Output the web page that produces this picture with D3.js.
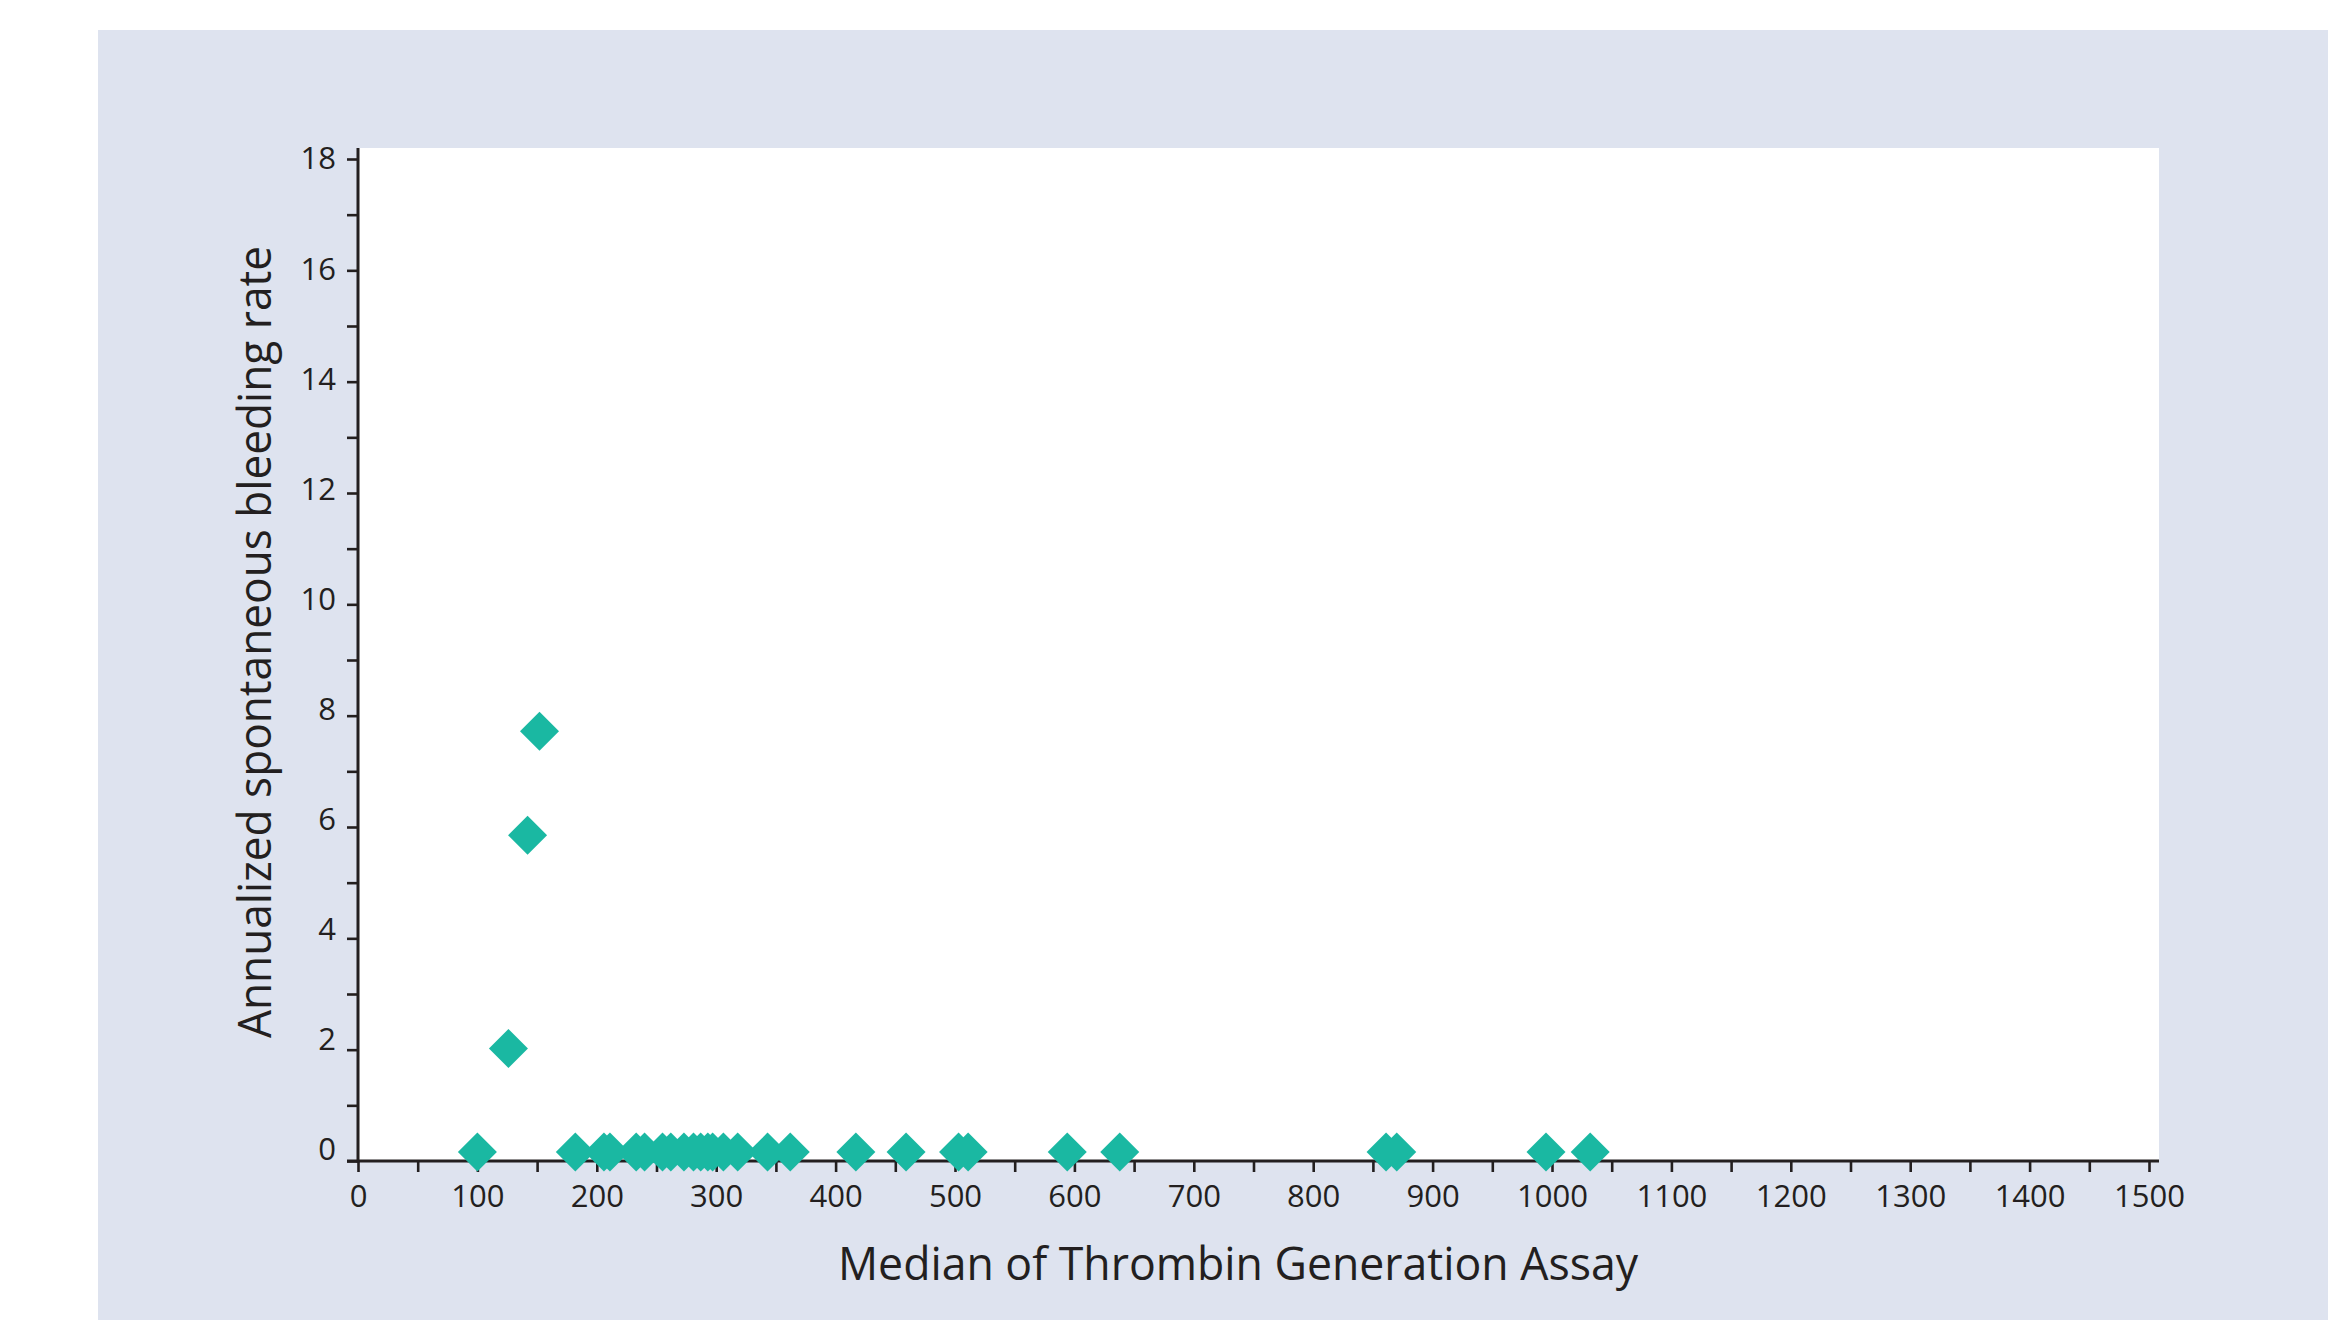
<!DOCTYPE html>
<html>
<head>
<meta charset="utf-8">
<script src="https://cdn.jsdelivr.net/npm/d3@7"></script>
<style>
  html, body { margin: 0; padding: 0; background: #ffffff; }
  svg { display: block; }
  text { font-family: "Open Sans", "Noto Sans", sans-serif; font-weight: 400; fill: #231f20; }
</style>
</head>
<body>
<svg id="chart" width="2334" height="1320"></svg>
<script>
// ---- Data ----
const tgaValues  = [100, 126, 142, 152, 182, 206, 211, 233, 240, 255, 262, 273, 281, 287, 293, 297, 306, 318, 343, 362, 417, 459, 503, 511, 594, 638, 861, 870, 995, 1032];
const absrValues = [0.16, 2.02, 5.85, 7.72, 0.16, 0.16, 0.16, 0.16, 0.16, 0.16, 0.16, 0.16, 0.16, 0.16, 0.16, 0.16, 0.16, 0.16, 0.16, 0.16, 0.16, 0.16, 0.16, 0.16, 0.16, 0.16, 0.16, 0.16, 0.16, 0.16];
const xTicks = d3.range(0, 1501, 50);
const yTicks = d3.range(0, 19, 1);
const xTitle = "Median of Thrombin Generation Assay";
const yTitle = "Annualized spontaneous bleeding rate";

const svg = d3.select("#chart");
const ink = "#231f20";

// background panel
svg.append("rect").attr("x", 98).attr("y", 30).attr("width", 2230).attr("height", 1290).attr("fill", "#dee3ef");
// white plot area
const plot = { left: 358, right: 2159, top: 148, bottom: 1161 };
svg.append("rect").attr("x", plot.left).attr("y", plot.top)
  .attr("width", plot.right - plot.left).attr("height", plot.bottom - plot.top).attr("fill", "#ffffff");

const x = d3.scaleLinear().domain([0, 1500]).range([358, 2149]);
const y = d3.scaleLinear().domain([0, 18]).range([1161, 159]);
const yLab = d3.scaleLinear().domain([0, 18]).range([1150, 159]);

// X axis
const gx = svg.append("g").attr("transform", `translate(0,${plot.bottom})`)
  .call(d3.axisBottom(x).tickValues(xTicks).tickSize(11).tickPadding(8)
    .tickFormat(d => d % 100 === 0 ? d : ""));
gx.select(".domain").remove();
gx.selectAll(".tick line").attr("stroke", ink).attr("stroke-width", 2.6);
gx.selectAll(".tick text").attr("font-size", 31).attr("dy", "0.71em").attr("y", 24)
  .attr("font-family", null).style("fill", ink);

// Y axis
const gy = svg.append("g").attr("transform", `translate(${plot.left},0)`)
  .call(d3.axisLeft(y).tickValues(yTicks).tickSize(11).tickPadding(11)
    .tickFormat(d => d % 2 === 0 ? d : ""));
gy.select(".domain").remove();
gy.selectAll(".tick line").attr("stroke", ink).attr("stroke-width", 2.6);
gy.selectAll(".tick text").attr("font-size", 31).attr("font-family", null)
  .attr("y", d => yLab(d) - y(d)).style("fill", ink);

// axis lines
svg.append("line").attr("x1", plot.left - 11).attr("x2", plot.right)
  .attr("y1", plot.bottom).attr("y2", plot.bottom).attr("stroke", ink).attr("stroke-width", 3);
svg.append("line").attr("x1", plot.left).attr("x2", plot.left)
  .attr("y1", plot.top).attr("y2", plot.bottom + 1.5).attr("stroke", ink).attr("stroke-width", 3);

// diamonds
const half = 19.5;
svg.append("g").selectAll("path").data(tgaValues).join("path")
  .attr("d", (d, i) => {
    const cx = x(d), cy = y(absrValues[i]);
    return `M${cx},${cy - half}L${cx + half},${cy}L${cx},${cy + half}L${cx - half},${cy}Z`;
  })
  .attr("fill", "#1ab8a2");

// titles
svg.append("text").attr("x", 1238).attr("y", 1280).attr("text-anchor", "middle")
  .attr("font-size", 46).attr("textLength", 800).attr("lengthAdjust", "spacingAndGlyphs")
  .style("fill", ink).text(xTitle);
svg.append("text").attr("transform", "translate(271,642) rotate(-90)")
  .attr("text-anchor", "middle").attr("font-size", 46).attr("textLength", 792)
  .attr("lengthAdjust", "spacingAndGlyphs").style("fill", ink).text(yTitle);
</script>
</body>
</html>
